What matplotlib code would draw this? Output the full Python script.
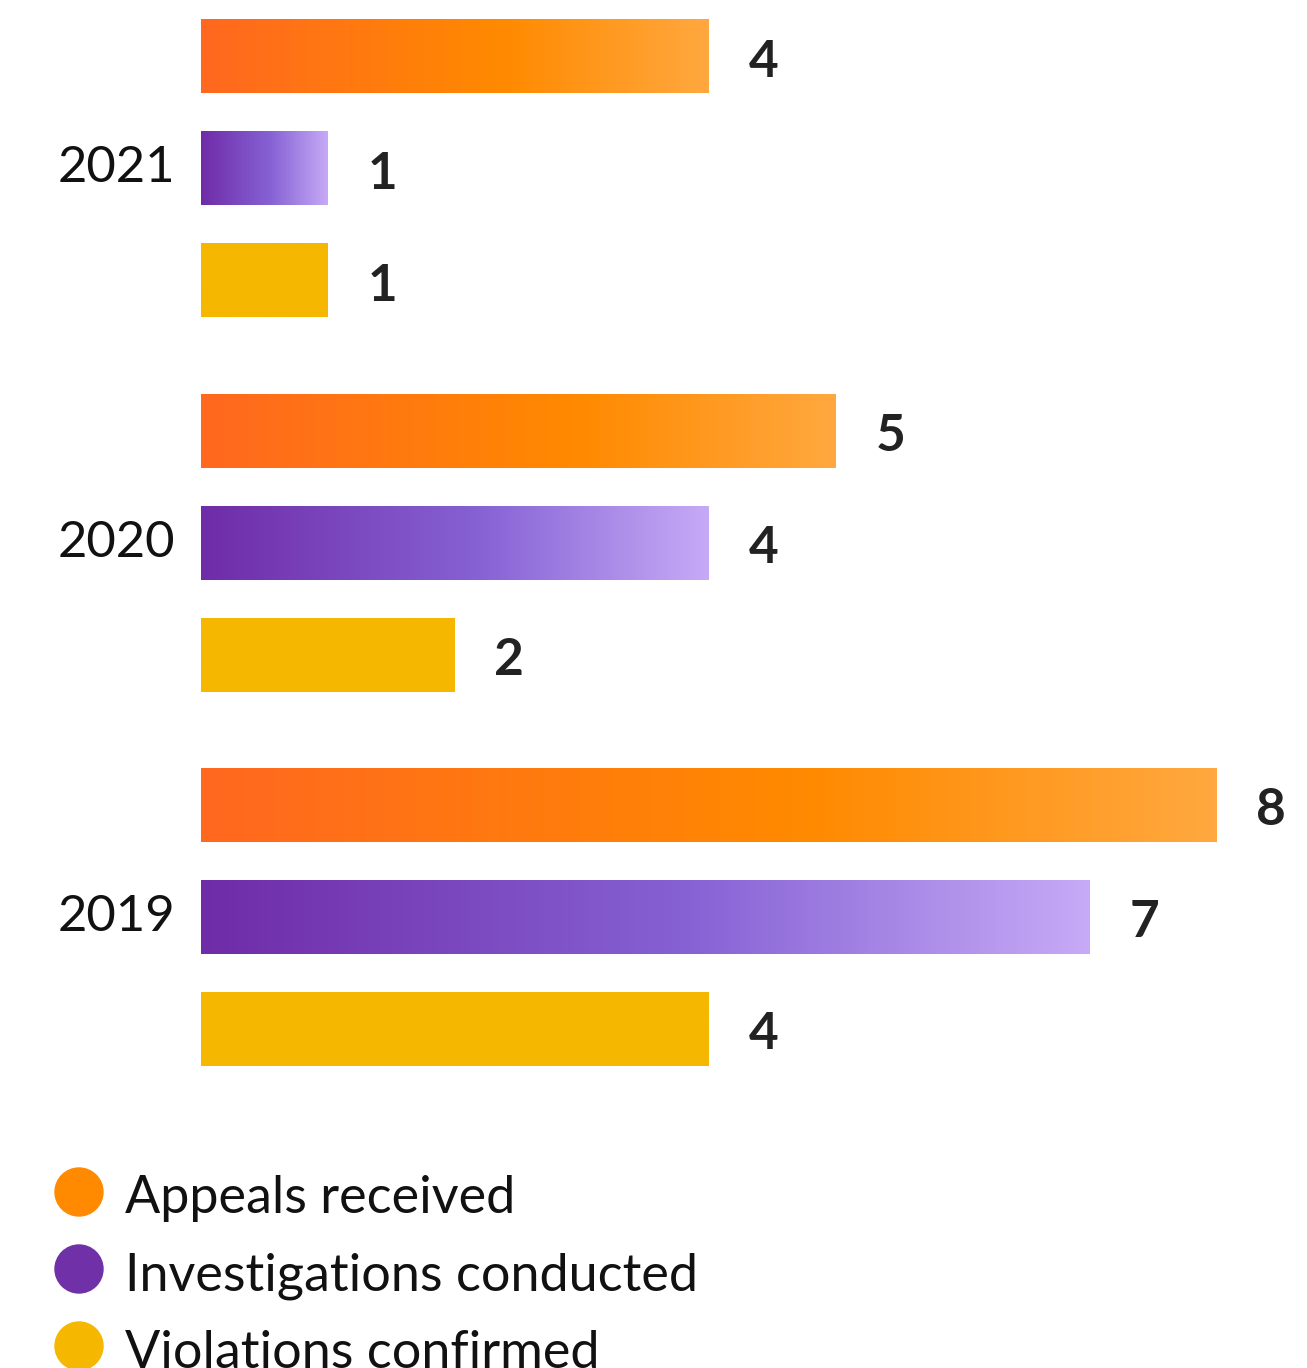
import numpy as np
import matplotlib
matplotlib.use("Agg")
import matplotlib.pyplot as plt
from matplotlib.colors import LinearSegmentedColormap
from matplotlib.patches import Circle

# data, top group first
years = ["2021", "2020", "2019"]
series = ["Appeals received", "Investigations conducted", "Violations confirmed"]
appeals = [4, 5, 8]
investigations = [1, 4, 7]
violations = [1, 2, 4]

plt.rcParams["font.family"] = ["Lato", "DejaVu Sans"]

W, H = 1307, 1368
fig = plt.figure(figsize=(W / 100, H / 100), dpi=100)

# layout (pixels)
left_px = 201
unit_px = 127          # width of one count
row_px = 112           # distance between bars in a group
group_gap = 3.34       # distance between groups, in rows
first_row_px = 56.5
bar_h = 0.66

ax = fig.add_axes([left_px / W, 0, 1 - left_px / W, 1])
ax.axis("off")

cmaps = [
    LinearSegmentedColormap.from_list("org", [(0, "#FF681F"), (0.6, "#FF8A00"), (1, "#FFA83F")]),
    LinearSegmentedColormap.from_list("pur", [(0, "#6F2CA8"), (0.55, "#8662D4"), (1, "#C6AAF6")]),
    LinearSegmentedColormap.from_list("yel", ["#F5B700", "#F5B700"]),
]
legend_colors = ["#FF8A00", "#7030A8", "#F5B700"]

grad = np.linspace(0, 1, 256).reshape(1, -1)
values = [appeals, investigations, violations]
for g, year in enumerate(years):
    base = g * group_gap
    for j in range(3):
        v = values[j][g]
        y = base + j
        ax.imshow(grad, cmap=cmaps[j], aspect="auto", interpolation="bilinear",
                  extent=[0, v, y + bar_h / 2, y - bar_h / 2], zorder=2)
        ax.text(v + 0.31, y + 0.05, str(v), ha="left", va="center",
                fontsize=37, fontweight="bold", color="#222222")
    fig.text(58 / W, 1 - (first_row_px + (base + 1) * row_px) / H, year,
             ha="left", va="center", fontsize=36.5, color="#111111")
ax.set_xlim(0, (W - left_px) / unit_px)
ax.set_ylim((H - first_row_px) / row_px, -first_row_px / row_px)

# legend
lax = fig.add_axes([0, 0, 1, 1])
lax.set_xlim(0, W)
lax.set_ylim(H, 0)
lax.axis("off")
for k, (name, col) in enumerate(zip(series, legend_colors)):
    cy = 1192 + k * 77
    lax.add_patch(Circle((79, cy), 24, color=col))
    lax.text(125, cy + 7, name, ha="left", va="center", fontsize=37.5, color="#111111")

fig.savefig("out.png", dpi=100)
